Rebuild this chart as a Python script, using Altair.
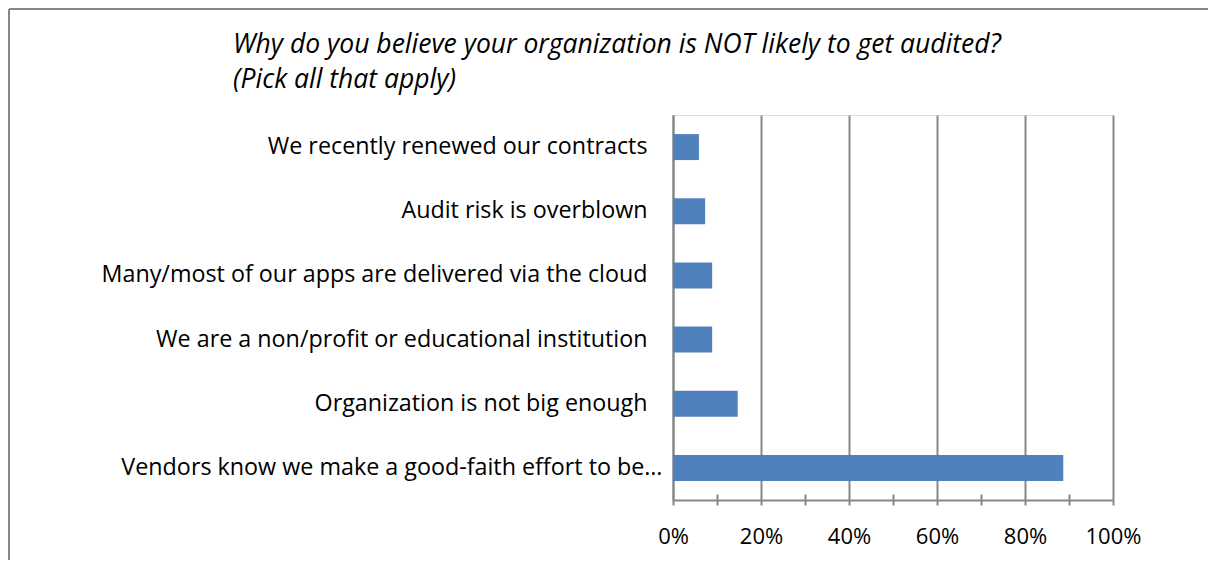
import altair as alt
import pandas as pd

categories = [
    "We recently renewed our contracts",
    "Audit risk is overblown",
    "Many/most of our apps are delivered via the cloud",
    "We are a non/profit or educational institution",
    "Organization is not big enough",
    "Vendors know we make a good-faith effort to be\u2026",
]
shares = [0.059, 0.073, 0.089, 0.089, 0.147, 0.887]

major_ticks = [0, 0.2, 0.4, 0.6, 0.8, 1.0]
minor_ticks = [0.1, 0.3, 0.5, 0.7, 0.9]

title_lines = [
    "Why do you believe your organization is NOT likely to get audited?",
    "(Pick all that apply)",
]

df = pd.DataFrame({"category": categories, "share": shares})
one = pd.DataFrame({"k": [0]})

FONT = "Open Sans"
GRAY = "#878787"
W, H = 440, 385

yenc = alt.Y(
    "category:N",
    sort=categories,
    title=None,
    scale=alt.Scale(paddingInner=0.595, paddingOuter=0.2975),
    axis=alt.Axis(
        ticks=False,
        domainColor=GRAY,
        domainWidth=2,
        labelFont=FONT,
        labelFontSize=23.3,
        labelColor="black",
        labelPadding={
            "condition": {"test": "indexof(datum.value, 'Vendors') === 0", "value": 11},
            "value": 26,
        },
        labelLimit=700,
    ),
)

xscale = alt.Scale(domain=[0, 1], nice=False)

bars = alt.Chart(df).mark_bar(color="#4F81BD").encode(
    x=alt.X(
        "share:Q",
        scale=xscale,
        title=None,
        axis=alt.Axis(
            orient="bottom",
            values=major_ticks,
            format=".0%",
            grid=True,
            gridColor=GRAY,
            gridWidth=2,
            domainColor=GRAY,
            domainWidth=2,
            tickColor=GRAY,
            tickWidth=2,
            tickSize=5,
            labelFont=FONT,
            labelFontSize=22,
            labelColor="black",
            labelPadding=21,
            labelFlush=False,
        ),
    ),
    y=yenc,
)

minor = alt.Chart(df).mark_bar(opacity=0).encode(
    x=alt.X(
        "share:Q",
        scale=xscale,
        title=None,
        axis=alt.Axis(
            orient="bottom",
            values=minor_ticks,
            labels=False,
            domain=False,
            grid=False,
            tickColor=GRAY,
            tickWidth=2,
            tickSize=11,
            offset=-6,
        ),
    ),
    y=alt.Y("category:N", sort=categories, axis=None),
)

title = alt.Chart(one).mark_text(
    align="left",
    baseline="alphabetic",
    font=FONT,
    fontSize=26.5,
    fontStyle="italic",
    color="black",
    lineHeight=35,
).encode(x=alt.value(-440), y=alt.value(-62), text=alt.value(title_lines))

border_top = alt.Chart(one).mark_rule(color=GRAY, strokeWidth=2).encode(
    x=alt.value(-664), x2=alt.value(W + 100), y=alt.value(-106)
)
border_left = alt.Chart(one).mark_rule(color=GRAY, strokeWidth=2).encode(
    x=alt.value(-664), y=alt.value(-106), y2=alt.value(H + 70)
)

chart = (
    alt.layer(bars, minor, title, border_top, border_left)
    .resolve_axis(x="independent", y="independent")
    .properties(
        width=W,
        height=H,
        padding={"left": 665, "top": 107, "right": 95, "bottom": 60},
        autosize=alt.AutoSizeParams(type="none"),
    )
    .configure_view(stroke=None)
    .configure(background="white")
)

chart.save("out.html", embed_options={"renderer": "svg", "actions": False})
